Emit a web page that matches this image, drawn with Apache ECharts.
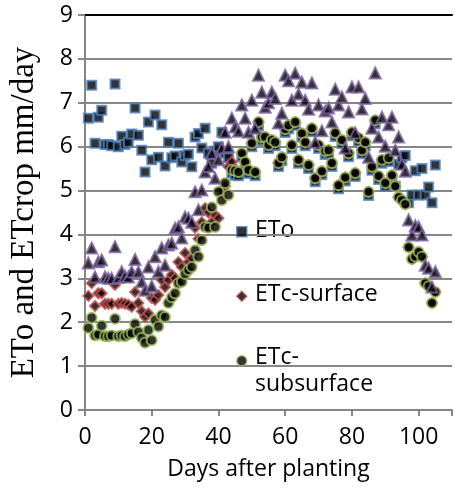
<!DOCTYPE html>
<html>
<head>
<meta charset="utf-8">
<script src="https://cdn.jsdelivr.net/npm/echarts@6/dist/echarts.min.js"></script>
<style>html,body{margin:0;padding:0;background:#fff}#c{width:455px;height:488px}</style>
</head>
<body>
<div id="c"></div>
<script>
const days = [1,2,3,4,5,6,7,8,9,10,11,12,13,14,15,16,17,18,19,20,21,22,23,24,25,26,27,28,29,30,31,32,33,34,35,36,37,38,39,40,41,42,43,44,45,46,47,48,49,50,51,52,53,54,55,56,57,58,59,60,61,62,63,64,65,66,67,68,69,70,71,72,73,74,75,76,77,78,79,80,81,82,83,84,85,86,87,88,89,90,91,92,93,94,95,96,97,98,99,100,101,102,103,104,105];

const eto = [6.65,7.40,6.08,6.67,6.83,6.05,6.05,6.02,7.43,6.00,6.24,6.05,6.10,6.29,6.88,6.26,5.92,5.42,6.56,5.70,6.72,5.76,6.50,5.56,6.10,5.75,5.79,6.08,5.65,5.80,5.83,5.54,6.22,6.30,5.97,6.42,5.85,5.62,5.90,6.00,6.33,5.85,5.75,5.40,5.35,5.34,5.77,5.57,5.39,6.00,5.34,6.48,6.14,6.14,5.96,6.07,6.02,5.55,5.68,6.32,6.41,5.96,6.48,5.62,6.22,6.02,5.50,6.34,5.20,5.96,5.36,5.82,5.84,5.55,6.23,5.04,6.07,5.22,5.77,6.25,5.32,6.12,5.84,6.02,4.89,5.46,6.52,5.25,5.62,5.09,5.66,5.27,5.10,5.60,5.75,5.80,4.72,4.90,5.45,4.90,5.50,4.90,5.08,4.72,5.58];

const etcSurface = [2.60,2.89,2.37,2.66,2.66,2.42,2.42,2.42,2.85,2.42,2.44,2.42,2.40,2.35,2.69,2.44,2.25,2.12,2.20,2.55,2.51,2.62,2.96,2.80,2.96,3.08,3.00,3.37,3.26,3.58,3.37,3.46,4.15,3.90,4.28,4.60,4.50,4.28,4.44,4.37,5.00,5.10,5.54,5.65,5.50,5.42,5.85,5.65,5.47,6.08,5.42,6.56,6.22,6.22,6.04,6.15,6.10,5.63,5.76,6.40,6.49,6.04,6.56,5.70,6.30,6.10,5.58,6.42,5.28,6.04,5.44,5.90,5.92,5.63,6.31,5.12,6.15,5.30,5.85,6.33,5.40,6.20,5.92,6.10,4.97,5.54,6.60,5.33,5.70,5.17,5.74,5.35,5.10,4.85,4.78,4.69,3.71,3.44,3.50,3.60,3.49,2.89,2.82,2.44,2.69];

const etcSubsurface = [1.87,2.10,1.70,1.72,1.92,1.68,1.68,1.70,2.08,1.68,1.70,1.68,1.72,1.75,1.96,1.78,1.64,1.53,1.82,1.59,2.05,1.90,2.16,2.12,2.44,2.57,2.66,2.89,2.92,3.10,3.19,3.26,3.64,3.49,3.87,4.17,4.15,4.62,4.17,4.97,4.78,5.17,4.90,5.47,5.45,5.42,5.85,5.65,5.47,6.08,5.42,6.56,6.22,6.22,6.04,6.15,6.10,5.63,5.76,6.40,6.49,6.04,6.56,5.70,6.30,6.10,5.58,6.42,5.28,6.04,5.44,5.90,5.92,5.63,6.31,5.12,6.15,5.30,5.85,6.33,5.40,6.20,5.92,6.10,4.97,5.54,6.60,5.33,5.70,5.17,5.74,5.35,5.10,4.85,4.78,4.69,3.71,3.44,3.50,3.60,3.49,2.89,2.82,2.44,2.69];

const etcOther = [3.35,3.69,3.03,3.38,3.42,3.03,3.00,3.00,3.72,3.02,3.15,3.05,3.03,3.15,3.43,3.15,2.92,2.73,3.26,2.82,3.49,3.15,3.69,3.30,3.76,3.80,4.14,4.17,3.92,4.40,4.37,4.28,4.97,4.56,5.01,5.42,5.55,5.85,5.28,5.70,5.97,6.33,6.00,6.65,6.45,6.35,6.95,6.65,6.33,7.06,6.42,7.63,7.24,6.90,7.00,7.24,7.10,6.54,6.76,7.63,7.50,7.06,7.67,7.20,7.47,7.06,6.85,7.45,6.10,6.95,6.36,6.81,6.88,6.56,7.31,6.95,7.13,5.97,6.79,7.36,6.31,7.36,6.86,7.10,5.76,6.42,7.68,6.22,6.67,6.01,6.50,6.67,5.92,6.22,5.60,5.44,4.33,3.99,4.20,4.17,3.99,3.30,3.23,2.80,3.15];

const xTicks = [0,20,40,60,80,100];
const yTicks = [0,1,2,3,4,5,6,7,8,9];
const legendLabels = ['ETo', 'ETc-surface', 'ETc-', 'subsurface'];

const pair = (ys) => days.map((d, i) => [d, ys[i]]);
const SANS = 'Open Sans';
const legendTop = [219, 283, 346, 373];

const chart = echarts.init(document.getElementById('c'), null, {renderer: 'canvas'});

chart.setOption({
  animation: false,
  backgroundColor: '#ffffff',
  grid: {left: 78, top: 15, right: -2, bottom: 78, containLabel: false},
  xAxis: [{
    type: 'value', min: 0, max: 110, interval: 20,
    name: 'Days after planting', nameLocation: 'middle', nameGap: 48,
    nameTextStyle: {fontFamily: SANS, fontSize: 23, color: '#000'},
    axisLine: {show: true, onZero: false, lineStyle: {color: '#868686', width: 2}},
    axisTick: {show: true, length: 6, lineStyle: {color: '#868686', width: 2}},
    axisLabel: {fontFamily: SANS, fontSize: 23, color: '#000', margin: 16,
      formatter: (v) => xTicks.includes(v) ? String(v) : ''},
    splitLine: {show: false}
  }, {
    type: 'value', position: 'top', min: 0, max: 110,
    axisLine: {show: true, onZero: false, lineStyle: {color: '#000', width: 2}},
    axisTick: {show: false}, axisLabel: {show: false}, splitLine: {show: false}
  }],
  yAxis: {
    type: 'value', min: 0, max: 9, interval: 1,
    name: 'ETo and ETcrop mm/day', nameLocation: 'middle', nameGap: 44,
    nameTextStyle: {fontFamily: 'Liberation Serif', fontSize: 33, color: '#000'},
    axisLine: {show: true, lineStyle: {color: '#868686', width: 2}},
    axisTick: {show: true, length: 7, lineStyle: {color: '#868686', width: 2}},
    axisLabel: {fontFamily: SANS, fontSize: 23, color: '#000', margin: 12,
      formatter: (v) => yTicks.includes(v) ? String(v) : ''},
    splitLine: {show: true, lineStyle: {color: '#878787', width: 2}}
  },
  legend: {
    data: [
      {name: 'ETo', icon: 'rect', itemStyle: {color: '#000', borderColor: '#4F81BD', borderWidth: 1.5}},
      {name: 'ETc-surface', icon: 'diamond', itemStyle: {color: '#000', borderColor: '#C0504D', borderWidth: 1.5}},
      {name: 'ETc-subsurface', icon: 'circle', itemStyle: {color: '#000', borderColor: '#9BBB59', borderWidth: 1.5}}
    ],
    orient: 'vertical', left: 236, top: 226, padding: 0,
    itemWidth: 10, itemHeight: 10, itemGap: 53,
    formatter: () => '',
    textStyle: {fontSize: 1}
  },
  graphic: legendLabels.map((t, i) => ({
    type: 'text', left: 255, top: legendTop[i], silent: true,
    style: {text: t, font: '23px "Open Sans"', fill: '#000'}
  })),
  series: [
    {name: 'ETo', type: 'scatter', data: pair(eto), symbol: 'rect', symbolSize: 9,
      itemStyle: {color: '#000', borderColor: '#4F81BD', borderWidth: 2}},
    {name: 'ETc-surface', type: 'scatter', data: pair(etcSurface), symbol: 'diamond', symbolSize: 10,
      itemStyle: {color: '#000', borderColor: '#C0504D', borderWidth: 2}},
    {name: 'ETc-subsurface', type: 'scatter', data: pair(etcSubsurface), symbol: 'circle', symbolSize: 10,
      itemStyle: {color: '#000', borderColor: '#9BBB59', borderWidth: 2}},
    {name: 'ETc-other', type: 'scatter', data: pair(etcOther), symbol: 'triangle', symbolSize: 11,
      itemStyle: {color: '#000', borderColor: '#8064A2', borderWidth: 2}}
  ]
});
</script>
</body>
</html>
